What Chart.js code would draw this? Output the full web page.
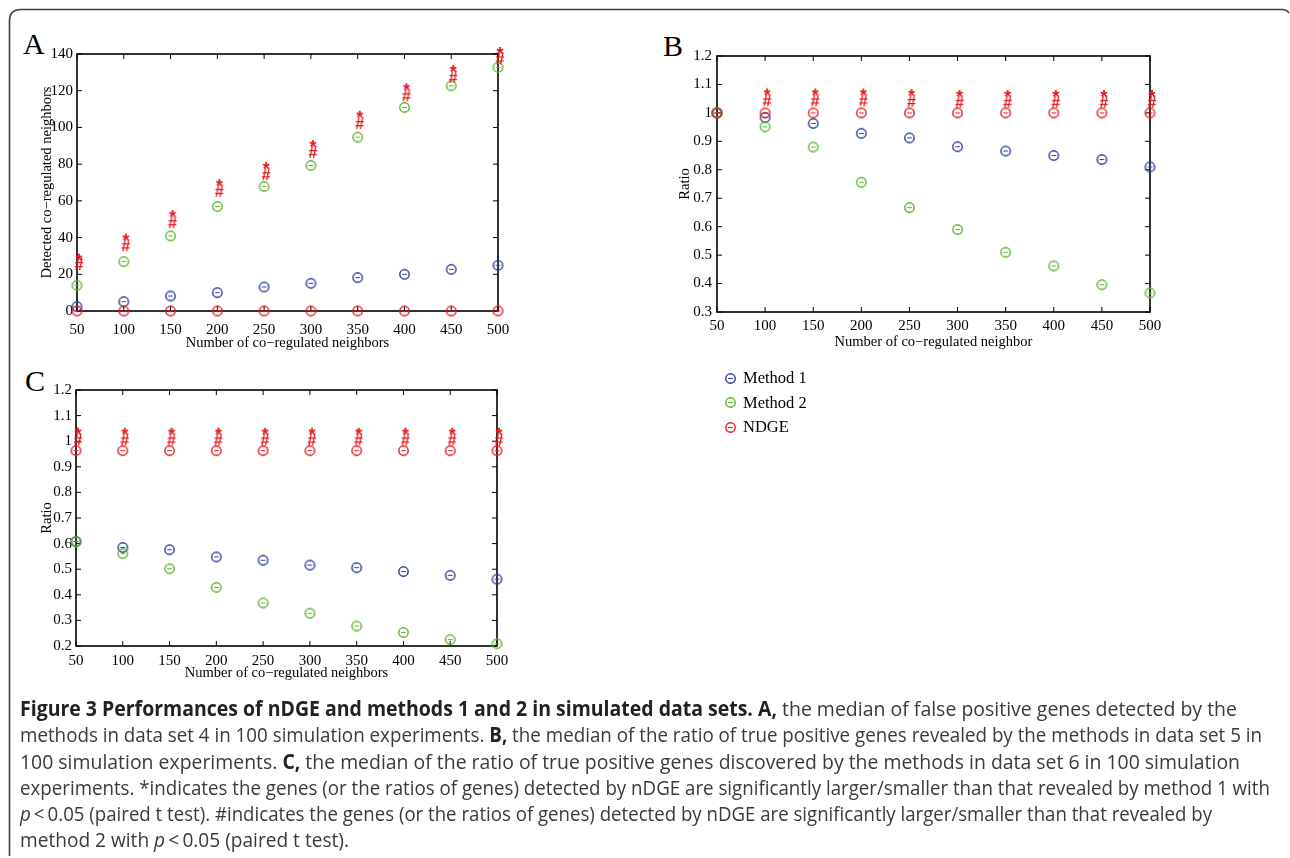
<!DOCTYPE html>
<html>
<head>
<meta charset="utf-8">
<script src="https://cdn.jsdelivr.net/npm/chart.js@4.4.0/dist/chart.umd.min.js"></script>
<style>
  body { margin:0; background:#fff; width:1290px; height:858px; overflow:hidden; position:relative; font-family:"Liberation Serif", "Times New Roman", serif; }
  canvas.full { position:absolute; left:0; top:0; }
  .tag { position:absolute; font-size:30px; line-height:30px; color:#000; }
  #legend { position:absolute; left:724px; top:366px; font-size:16.5px; }
  #legend div { height:24.5px; line-height:22px; display:flex; align-items:center; }
  #caption { position:absolute; left:20px; top:695px; font-family:"Open Sans", sans-serif; font-size:20.5px; line-height:26.3px; color:#3a3a3a; white-space:nowrap; }
  #caption .ln { height:26.3px; }
  #caption .ln span { display:inline-block; transform-origin:0 0; }
  #caption b { color:#222; }
</style>
</head>
<body>
<svg width="1290" height="858" style="position:absolute;left:0;top:0">
  <path d="M9.5,856 L9.5,21 Q9.5,9.5 21,9.5 L1282,9.5 Q1287,9.5 1289,13" fill="none" stroke="#3c3c3c" stroke-width="1.6"/>
</svg>
<div class="tag" style="left:23px;top:29px">A</div>
<div class="tag" style="left:663px;top:31px">B</div>
<div class="tag" style="left:25px;top:366px">C</div>

<canvas id="chartA" class="full" width="1290" height="858"></canvas>
<canvas id="chartB" class="full" width="1290" height="858"></canvas>
<canvas id="chartC" class="full" width="1290" height="858"></canvas>

<div id="legend"></div>

<div id="caption">
<div class="ln" data-w="1217"><span><b>Figure 3 Performances of nDGE and methods 1 and 2 in simulated data sets. A,</b> the median of false positive genes detected by the</span></div>
<div class="ln" data-w="1242"><span>methods in data set 4 in 100 simulation experiments. <b>B,</b> the median of the ratio of true positive genes revealed by the methods in data set 5 in</span></div>
<div class="ln" data-w="1220"><span>100 simulation experiments. <b>C,</b> the median of the ratio of true positive genes discovered by the methods in data set 6 in 100 simulation</span></div>
<div class="ln" data-w="1250"><span>experiments. *indicates the genes (or the ratios of genes) detected by nDGE are significantly larger/smaller than that revealed by method 1 with</span></div>
<div class="ln" data-w="1192"><span><i>p</i>&thinsp;&lt;&thinsp;0.05 (paired t test). #indicates the genes (or the ratios of genes) detected by nDGE are significantly larger/smaller than that revealed by</span></div>
<div class="ln" data-w="329"><span>method 2 with <i>p</i>&thinsp;&lt;&thinsp;0.05 (paired t test).</span></div>
</div>

<script>
const neighbors = [50, 100, 150, 200, 250, 300, 350, 400, 450, 500];
const seriesNames = ['Method 1', 'Method 2', 'NDGE'];
const seriesColors = ['#2b3a9c', '#5ab52a', '#e3161e'];

// A: detected co-regulated neighbors (false positives)
const aMethod1 = [2.4, 5.1, 8.2, 10, 13.1, 15.1, 18.2, 20, 22.7, 24.9];
const aMethod2 = [14, 26.9, 40.9, 56.9, 67.8, 79.3, 94.7, 110.9, 122.7, 132.7];
const aNdge    = [0, 0, 0, 0, 0, 0, 0, 0, 0, 0];
const aStar    = [29.6, 40.5, 53.3, 70.2, 79.5, 91.5, 107.5, 122.4, 132.4, 142.2];
const aHash    = [25.6, 35.8, 48.4, 65.5, 74.5, 86.7, 102.4, 117.5, 127.6, 137.6];

// B: ratio, data set 5
const bMethod1 = [1.0, 0.984, 0.963, 0.928, 0.912, 0.881, 0.866, 0.850, 0.836, 0.810];
const bMethod2 = [1.0, 0.951, 0.880, 0.756, 0.667, 0.590, 0.510, 0.462, 0.396, 0.367];
const bNdge    = [1, 1, 1, 1, 1, 1, 1, 1, 1, 1];
const bStar    = [null, 1.075, 1.075, 1.075, 1.073, 1.07, 1.07, 1.07, 1.07, 1.07];
const bHash    = [null, 1.044, 1.044, 1.044, 1.042, 1.039, 1.039, 1.039, 1.039, 1.039];

// C: ratio, data set 6
const cMethod1 = [0.608, 0.585, 0.576, 0.548, 0.535, 0.516, 0.506, 0.491, 0.476, 0.461];
const cMethod2 = [0.607, 0.561, 0.502, 0.429, 0.368, 0.328, 0.278, 0.253, 0.225, 0.209];
const cNdge    = [0.963, 0.963, 0.963, 0.963, 0.963, 0.963, 0.963, 0.963, 0.963, 0.963];
const cStar    = [1.041, 1.041, 1.041, 1.041, 1.041, 1.041, 1.041, 1.041, 1.041, 1.041];
const cHash    = [1.007, 1.007, 1.007, 1.007, 1.007, 1.007, 1.007, 1.007, 1.007, 1.007];

const serif = '"Liberation Serif", "Times New Roman", serif';

// circle with a small dash in it, like the matlab markers
function ringMarker(color) {
  let c = document.createElement('canvas');
  c.width = 13; c.height = 13;
  let g = c.getContext('2d');
  g.strokeStyle = color;
  g.lineWidth = 1.4;
  g.beginPath(); g.arc(6.5, 6.5, 4.7, 0, Math.PI * 2); g.stroke();
  g.lineWidth = 1;
  g.beginPath(); g.moveTo(4.2, 6.5); g.lineTo(8.8, 6.5); g.stroke();
  return c;
}

function glyphMarker(ch, color, size) {
  let c = document.createElement('canvas');
  c.width = 24; c.height = 24;
  let g = c.getContext('2d');
  g.fillStyle = color;
  g.font = 'bold ' + size + 'px "Liberation Sans", Arial, sans-serif';
  g.textAlign = 'center';
  let m = g.measureText(ch);
  g.fillText(ch, 14, 12 + (m.actualBoundingBoxAscent - m.actualBoundingBoxDescent) / 2);
  return c;
}

const markers = seriesColors.map(ringMarker);
const starMark = glyphMarker('*', seriesColors[2], 18);
const hashMark = glyphMarker('#', seriesColors[2], 16);

function pts(ys) {
  return neighbors.map((x, i) => ({ x: x, y: ys[i] }));
}

function makeDatasets(m1, m2, nd, star, hash) {
  let sets = [m1, m2, nd].map((ys, i) => ({
    label: seriesNames[i],
    data: pts(ys),
    pointStyle: markers[i],
    order: 3 - i
  }));
  sets.push({ label: '*', data: pts(star), pointStyle: starMark, order: 0 });
  sets.push({ label: '#', data: pts(hash), pointStyle: hashMark, order: 0 });
  sets.forEach(s => { s.showLine = false; s.clip = false; s.pointRadius = 5; });
  return sets;
}

// box around the plot with inward ticks on all sides
const boxTicks = {
  id: 'boxTicks',
  beforeDatasetsDraw(chart) {
    let { ctx, chartArea: a, scales } = chart;
    let len = 5;
    ctx.save();
    ctx.strokeStyle = '#000';
    ctx.lineWidth = 1;
    ctx.beginPath();
    scales.x.ticks.forEach(t => {
      let px = scales.x.getPixelForValue(t.value);
      ctx.moveTo(px, a.bottom); ctx.lineTo(px, a.bottom - len);
      ctx.moveTo(px, a.top); ctx.lineTo(px, a.top + len);
    });
    scales.y.ticks.forEach(t => {
      let py = scales.y.getPixelForValue(t.value);
      ctx.moveTo(a.left, py); ctx.lineTo(a.left + len, py);
      ctx.moveTo(a.right, py); ctx.lineTo(a.right - len, py);
    });
    ctx.stroke();
    ctx.lineWidth = 1.6;
    ctx.strokeRect(a.left, a.top, a.right - a.left, a.bottom - a.top);
    ctx.restore();
  }
};

function drawPanel(id, p, datasets) {
  let tickFont = { family: serif, size: 15 };
  let titleFont = { family: serif, size: 14.5 };
  new Chart(document.getElementById(id), {
    type: 'scatter',
    data: { datasets: datasets },
    options: {
      responsive: false,
      animation: false,
      events: [],
      layout: { padding: { left: p.left, top: p.top, right: p.right, bottom: p.bottom } },
      plugins: { legend: { display: false }, tooltip: { enabled: false } },
      scales: {
        x: {
          type: 'linear', min: 50, max: 500,
          ticks: { stepSize: 50, padding: p.xPad, font: tickFont, color: '#000', maxRotation: 0, autoSkip: false },
          grid: { display: false, drawTicks: false },
          border: { display: false },
          title: { display: true, text: p.xTitle, font: titleFont, color: '#000', padding: 0 },
          afterFit(s) { s.height = p.xH; }
        },
        y: {
          type: 'linear', min: p.yMin, max: p.yMax,
          ticks: { stepSize: p.yStep, padding: p.yPad, font: tickFont, color: '#000', autoSkip: false,
                   callback: v => String(+v.toFixed(1)) },
          grid: { display: false, drawTicks: false },
          border: { display: false },
          title: { display: true, text: p.yTitle, font: titleFont, color: '#000', padding: 0 },
          afterFit(s) { s.width = p.yW; }
        }
      }
    },
    plugins: [boxTicks]
  });
}

drawPanel('chartA', { left: 38, top: 54, right: 1290 - 498, bottom: 858 - 352, yW: 39, xH: 41, xPad: 10, yPad: 4,
  yMin: 0, yMax: 140, yStep: 20, xTitle: 'Number of co\u2212regulated neighbors', yTitle: 'Detected co\u2212regulated neighbors' },
  makeDatasets(aMethod1, aMethod2, aNdge, aStar, aHash));

drawPanel('chartB', { left: 676, top: 56, right: 1290 - 1150, bottom: 858 - 351, yW: 41, xH: 39, xPad: 5, yPad: 5,
  yMin: 0.3, yMax: 1.2, yStep: 0.1, xTitle: 'Number of co\u2212regulated neighbor', yTitle: 'Ratio' },
  makeDatasets(bMethod1, bMethod2, bNdge, bStar, bHash));

drawPanel('chartC', { left: 38, top: 390, right: 1290 - 497, bottom: 858 - 682, yW: 38, xH: 36, xPad: 6, yPad: 4,
  yMin: 0.2, yMax: 1.2, yStep: 0.1, xTitle: 'Number of co\u2212regulated neighbors', yTitle: 'Ratio' },
  makeDatasets(cMethod1, cMethod2, cNdge, cStar, cHash));

// legend
let legend = document.getElementById('legend');
seriesNames.forEach((name, i) => {
  let row = document.createElement('div');
  row.appendChild(ringMarker(seriesColors[i]));
  let span = document.createElement('span');
  span.textContent = name;
  span.style.marginLeft = '6px';
  row.appendChild(span);
  legend.appendChild(row);
});

// squeeze each caption line to the width it has in the figure
document.querySelectorAll('#caption .ln').forEach(ln => {
  let span = ln.firstElementChild;
  let w = span.getBoundingClientRect().width;
  span.style.transform = 'scaleX(' + (ln.dataset.w / w) + ')';
});
</script>
</body>
</html>
